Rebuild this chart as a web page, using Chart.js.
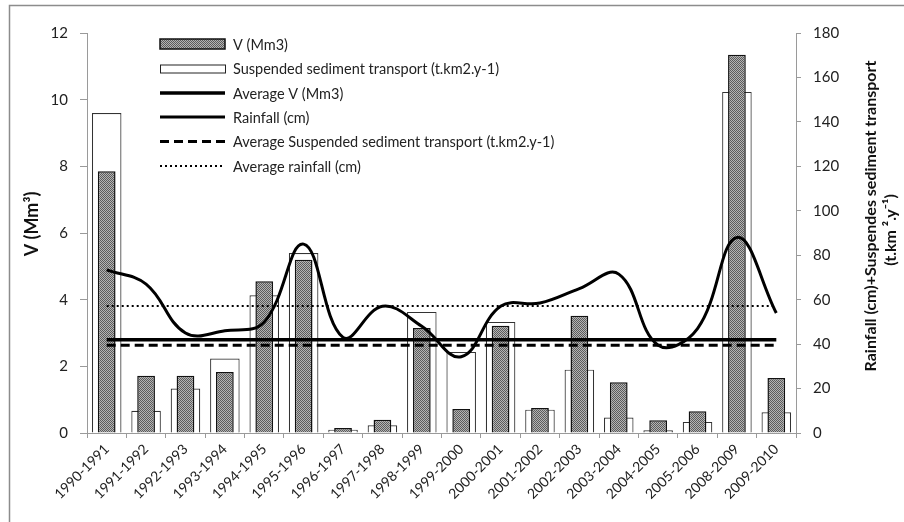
<!DOCTYPE html>
<html><head><meta charset="utf-8">
<script src="https://cdn.jsdelivr.net/npm/chart.js@4/dist/chart.umd.min.js"></script>
<style>html,body{margin:0;padding:0;background:#fff;}canvas{display:block}</style>
</head><body>
<canvas id="c" width="904" height="522"></canvas>
<script>
const categories = ['1990-1991','1991-1992','1992-1993','1993-1994','1994-1995','1995-1996','1996-1997','1997-1998','1998-1999','1999-2000','2000-2001','2001-2002','2002-2003','2003-2004','2004-2005','2005-2006','2008-2009','2009-2010'];
const volumeV   = [7.85,1.72,1.72,1.83,4.55,5.2,0.15,0.4,3.15,0.72,3.22,0.75,3.52,1.52,0.38,0.65,11.35,1.65];
const sediment  = [144,10,20,33.5,62,81,1.5,3.5,54.5,36.5,50,10.5,28.5,7,1.2,5,153.5,9.3];
const rainfall  = [73.4,67,45,46,50,85,43,57,48,34.3,57,58.5,65,71.5,39.5,47,88,54];
const averageV = 2.8;
const averageSediment = 39.5;
const averageRainfall = 57.2;
const leftTicks  = [0,2,4,6,8,10,12];
const rightTicks = [0,20,40,60,80,100,120,140,160,180];
const legendLabels = ['V (Mm3)','Suspended sediment transport (t.km2.y-1)','Average V (Mm3)','Rainfall (cm)','Average Suspended sediment transport (t.km2.y-1)','Average rainfall (cm)'];
const leftTitle = 'V (Mm³)';
const rightTitle = ['Rainfall (cm)+Suspendes sediment transport','(t.km ².y⁻¹)'];

const FONT = 'Lato, "Open Sans", sans-serif';
const canvas = document.getElementById('c');
const ctx = canvas.getContext('2d');

function makePattern(){
  const p = document.createElement('canvas'); p.width = 4; p.height = 4;
  const g = p.getContext('2d');
  g.fillStyle = '#b4b4b4'; g.fillRect(0,0,4,4);
  g.fillStyle = '#5c5c5c';
  for (let y=0;y<4;y++) for (let x=0;x<4;x++) if ((x+y)%2===0) g.fillRect(x,y,1,1);
  return ctx.createPattern(p,'repeat');
}
const pattern = makePattern();

const axisGray = '#9a9a9a';

const decorPlugin = {
  id: 'decor',
  beforeDraw(chart){
    const c = chart.ctx;
    c.save();
    c.fillStyle = '#fff'; c.fillRect(0,0,chart.width,chart.height);
    c.strokeStyle = '#8c8c8c'; c.lineWidth = 1.5;
    c.beginPath(); c.moveTo(9.5, chart.height+2); c.lineTo(9.5, 5.5); c.lineTo(chart.width+2, 5.5); c.stroke();
    c.restore();
  },
  afterDraw(chart){
    const c = chart.ctx;
    c.save();
    // axis titles
    c.fillStyle = '#111';
    c.textAlign = 'center'; c.textBaseline = 'middle';
    c.font = 'bold 18px ' + FONT;
    c.save(); c.translate(32, 224); c.rotate(-Math.PI/2); c.fillText(leftTitle, 0, 0); c.restore();
    c.font = 'bold 16px ' + FONT;
    c.save(); c.translate(871, 216); c.rotate(-Math.PI/2); c.fillText(rightTitle[0], 0, 0); c.restore();
    c.save(); c.translate(891, 230); c.rotate(-Math.PI/2); c.fillText(rightTitle[1], 0, 0); c.restore();
    // legend
    const x0 = 160, x1 = 225, tx = 233;
    const rows = [44, 68.5, 93, 117, 141.5, 166];
    c.font = '14.5px ' + FONT; c.textAlign = 'left';
    chart.data.datasets.forEach((ds, i) => {
      const y = rows[i];
      if (ds.type === 'bar') {
        if (ds.backgroundColor === pattern) {
          c.fillStyle = pattern; c.fillRect(x0, y-5, x1-x0, 10);
          c.strokeStyle = '#111'; c.lineWidth = 1.5; c.strokeRect(x0, y-5, x1-x0, 10);
        } else {
          c.fillStyle = '#fff'; c.fillRect(x0, y-4, x1-x0, 8);
          c.strokeStyle = '#222'; c.lineWidth = 1; c.strokeRect(x0+0.5, y-3.5, x1-x0, 8);
        }
      } else {
        c.strokeStyle = '#000'; c.lineWidth = ds.borderWidth; c.setLineDash(ds.borderDash || []);
        c.beginPath(); c.moveTo(x0, y); c.lineTo(x1, y); c.stroke(); c.setLineDash([]);
      }
      c.fillStyle = '#222';
      c.fillText(ds.label, tx, y+1);
    });
    c.restore();
  }
};

new Chart(ctx, {
  type: 'bar',
  data: {
    labels: categories,
    datasets: [
      { type:'bar', label: legendLabels[0], data: volumeV, yAxisID:'y', backgroundColor: pattern, borderColor:'#111', borderWidth:1.5, barPercentage:0.45, categoryPercentage:1, grouped:false, order:1 },
      { type:'bar', label: legendLabels[1], data: sediment, yAxisID:'y2', backgroundColor:'#fff', borderColor:'#333', borderWidth:1.2, barPercentage:0.75, categoryPercentage:1, grouped:false, order:2 },
      { type:'line', label: legendLabels[2], data: categories.map(() => averageV), yAxisID:'y', borderColor:'#000', borderWidth:3.5, pointRadius:0, fill:false, order:0 },
      { type:'line', label: legendLabels[3], data: rainfall, yAxisID:'y2', borderColor:'#000', borderWidth:3, pointRadius:0, tension:0.4, fill:false, order:0 },
      { type:'line', label: legendLabels[4], data: categories.map(() => averageSediment), yAxisID:'y2', borderColor:'#000', borderWidth:3, borderDash:[9,5], pointRadius:0, fill:false, order:0 },
      { type:'line', label: legendLabels[5], data: categories.map(() => averageRainfall), yAxisID:'y2', borderColor:'#000', borderWidth:2, borderDash:[2,3], pointRadius:0, fill:false, order:0 }
    ]
  },
  options: {
    responsive:false, animation:false,
    layout:{ padding:{ top:33, left:0, right:0, bottom:0 } },
    plugins:{ legend:{display:false}, tooltip:{enabled:false}, title:{display:false} },
    scales:{
      x:{ offset:true,
          grid:{ offset:true, drawOnChartArea:false, drawTicks:true, tickLength:5, color:axisGray },
          border:{ color:axisGray, width:1 },
          ticks:{ autoSkip:false, minRotation:45, maxRotation:45, padding:3, color:'#222', font:{ family:FONT, size:14 } },
          afterFit(s){ s.height = 89; } },
      y:{ position:'left', min:0, max:12,
          afterBuildTicks(s){ s.ticks = leftTicks.map(v => ({value:v})); },
          grid:{ drawOnChartArea:false, tickLength:7, color:axisGray },
          border:{ color:axisGray, width:1 },
          ticks:{ padding:12, color:'#222', font:{ family:FONT, size:15 } },
          afterFit(s){ s.width = 87; } },
      y2:{ position:'right', min:0, max:180,
          afterBuildTicks(s){ s.ticks = rightTicks.map(v => ({value:v})); },
          grid:{ drawOnChartArea:false, tickLength:5, color:axisGray },
          border:{ color:axisGray, width:1 },
          ticks:{ padding:12, color:'#222', font:{ family:FONT, size:15 } },
          afterFit(s){ s.width = 108; } }
    }
  },
  plugins:[decorPlugin]
});
</script>
</body></html>
